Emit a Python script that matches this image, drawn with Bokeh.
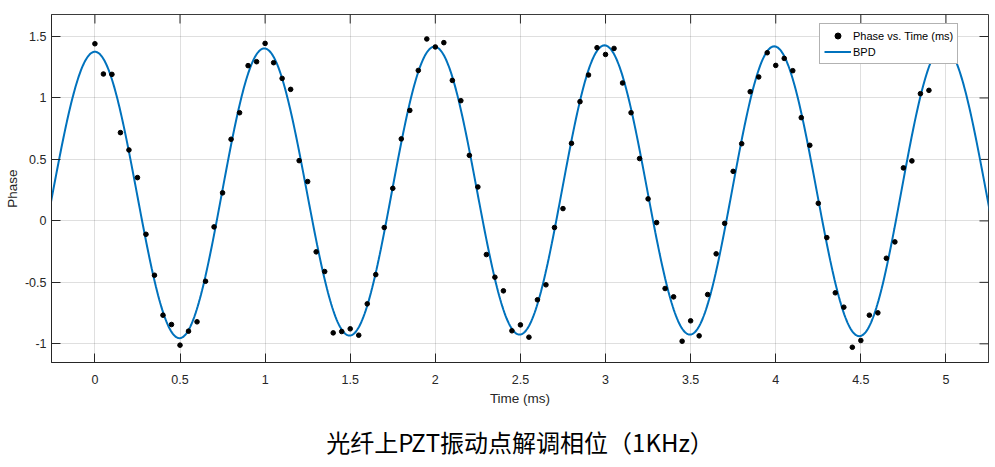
import numpy as np
from bokeh.plotting import figure
from bokeh.models import FixedTicker, Range1d, Legend, LegendItem, LinearAxis
from bokeh.embed import file_html
from bokeh.resources import INLINE

# ---------------- data ----------------
phase_time_ms = [
    0.00, 0.05, 0.10, 0.15, 0.20, 0.25, 0.30, 0.35, 0.40, 0.45,
    0.50, 0.55, 0.60, 0.65, 0.70, 0.75, 0.80, 0.85, 0.90, 0.95,
    1.00, 1.05, 1.10, 1.15, 1.20, 1.25, 1.30, 1.35, 1.40, 1.45,
    1.50, 1.55, 1.60, 1.65, 1.70, 1.75, 1.80, 1.85, 1.90, 1.95,
    2.00, 2.05, 2.10, 2.15, 2.20, 2.25, 2.30, 2.35, 2.40, 2.45,
    2.50, 2.55, 2.60, 2.65, 2.70, 2.75, 2.80, 2.85, 2.90, 2.95,
    3.00, 3.05, 3.10, 3.15, 3.20, 3.25, 3.30, 3.35, 3.40, 3.45,
    3.50, 3.55, 3.60, 3.65, 3.70, 3.75, 3.80, 3.85, 3.90, 3.95,
    4.00, 4.05, 4.10, 4.15, 4.20, 4.25, 4.30, 4.35, 4.40, 4.45,
    4.50, 4.55, 4.60, 4.65, 4.70, 4.75, 4.80, 4.85, 4.90,
]
phase_values = [
    1.441, 1.195, 1.192, 0.718, 0.577, 0.352, -0.109, -0.442, -0.767, -0.843,
    -1.011, -0.897, -0.821, -0.491, -0.049, 0.228, 0.664, 0.880, 1.263, 1.295,
    1.444, 1.287, 1.159, 1.070, 0.490, 0.320, -0.252, -0.412, -0.911, -0.900,
    -0.878, -0.930, -0.675, -0.437, -0.054, 0.265, 0.667, 0.899, 1.224, 1.480,
    1.415, 1.450, 1.143, 0.978, 0.533, 0.276, -0.274, -0.458, -0.569, -0.894,
    -0.846, -0.946, -0.642, -0.520, -0.054, 0.100, 0.631, 0.970, 1.187, 1.409,
    1.354, 1.403, 1.122, 0.880, 0.507, 0.179, -0.014, -0.550, -0.618, -0.979,
    -0.813, -0.935, -0.599, -0.268, -0.020, 0.403, 0.628, 1.051, 1.171, 1.368,
    1.265, 1.322, 1.222, 0.840, 0.615, 0.143, -0.136, -0.585, -0.702, -1.028,
    -0.973, -0.767, -0.748, -0.304, -0.171, 0.431, 0.488, 1.035, 1.062,
]

# BPD fitted curve: its successive peaks and troughs
bpd_extrema_time_ms = [-0.50, 0.000, 0.497, 0.995, 1.496, 1.995, 2.495,
                       2.994, 3.496, 3.991, 4.491, 4.985, 5.485]
bpd_extrema_values = [-0.950, 1.376, -0.954, 1.403, -0.933, 1.417, -0.925,
                      1.428, -0.925, 1.420, -0.938, 1.420, -0.930]

x_tick_values = [0, 0.5, 1, 1.5, 2, 2.5, 3, 3.5, 4, 4.5, 5]
x_tick_labels = ["0", "0.5", "1", "1.5", "2", "2.5", "3", "3.5", "4", "4.5", "5"]
y_tick_values = [-1, -0.5, 0, 0.5, 1, 1.5]
y_tick_labels = ["-1", "-0.5", "0", "0.5", "1", "1.5"]

title_text = "光纤上PZT振动点解调相位（1KHz）"
x_label = "Time (ms)"
y_label = "Phase"
legend_labels = ["Phase vs. Time (ms)", "BPD"]

# smooth sinusoidal segments between successive extrema of the fitted curve
curve_t, curve_v = [], []
for i in range(len(bpd_extrema_time_ms) - 1):
    t0, t1 = bpd_extrema_time_ms[i], bpd_extrema_time_ms[i + 1]
    v0, v1 = bpd_extrema_values[i], bpd_extrema_values[i + 1]
    s = np.linspace(0.0, 1.0, 80)
    if i > 0:
        s = s[1:]
    curve_t.extend(t0 + (t1 - t0) * s)
    curve_v.extend((v0 + v1) / 2 + (v0 - v1) / 2 * np.cos(np.pi * s))

# ---------------- styling ----------------
FONT = "Liberation Sans"
AX = "#262626"

x_rng = Range1d(-0.255, 5.25)
y_rng = Range1d(-1.152, 1.679)

p = figure(frame_width=937, frame_height=348,
           x_range=x_rng, y_range=y_rng,
           output_backend="svg", toolbar_location=None, title=None,
           min_border_left=51, min_border_top=14, min_border_right=7,
           min_border_bottom=4)
p.background_fill_color = "white"
p.border_fill_color = "white"
p.outline_line_color = AX
p.outline_line_alpha = 0.9

xt = FixedTicker(ticks=x_tick_values)
yt = FixedTicker(ticks=y_tick_values)

xa = p.xaxis[0]
ya = p.yaxis[0]
for ax, ticker, ticks, labels in ((xa, xt, x_tick_values, x_tick_labels),
                                  (ya, yt, y_tick_values, y_tick_labels)):
    ax.ticker = ticker
    ax.major_label_overrides = {v: l for v, l in zip(ticks, labels)}
    ax.major_tick_in = 9
    ax.major_tick_out = 0
    ax.minor_tick_line_color = None
    ax.axis_line_color = AX
    ax.major_tick_line_color = AX
    ax.major_label_text_font = FONT
    ax.major_label_text_font_size = "12.5px"
    ax.major_label_text_color = AX
    ax.axis_label_text_font = FONT
    ax.axis_label_text_font_size = "13.5px"
    ax.axis_label_text_font_style = "normal"
    ax.axis_label_text_color = AX
xa.major_label_standoff = 12
ya.major_label_standoff = 5
xa.axis_label = x_label
ya.axis_label = y_label
xa.axis_label_standoff = 4
ya.axis_label_standoff = 2

# caption: drawn as the label of a tick-less axis under the x axis
cap_ax = LinearAxis(ticker=FixedTicker(ticks=[]), axis_label=title_text)
cap_ax.axis_line_color = None
cap_ax.major_tick_line_color = None
cap_ax.minor_tick_line_color = None
cap_ax.major_tick_in = 0
cap_ax.major_tick_out = 0
cap_ax.major_label_standoff = 0
cap_ax.axis_label_standoff = 15
cap_ax.axis_label_text_font = "Noto Sans CJK SC"
cap_ax.axis_label_text_font_size = "24px"
cap_ax.axis_label_text_font_style = "normal"
cap_ax.axis_label_text_color = "black"
p.add_layout(cap_ax, "below")

# inward tick marks on the top and right edges of the box (clipped to frame)
p.scatter(x_tick_values, [y_rng.end] * len(x_tick_values), marker="dash",
          angle=np.pi / 2, size=18, line_color=AX, line_width=1)
p.scatter([x_rng.end] * len(y_tick_values), y_tick_values, marker="dash",
          size=18, line_color=AX, line_width=1)

p.xgrid.ticker = xt
p.ygrid.ticker = yt
for g in (p.xgrid[0], p.ygrid[0]):
    g.grid_line_color = AX
    g.grid_line_alpha = 0.15
    g.grid_line_width = 1

r_line = p.line(curve_t, curve_v, line_color="#0072BD", line_width=2)
r_pts = p.scatter(phase_time_ms, phase_values, size=4.6, fill_color="black",
                  line_color="black")

legend = Legend(items=[LegendItem(label=legend_labels[0], renderers=[r_pts]),
                       LegendItem(label=legend_labels[1], renderers=[r_line])],
                location=(768, 298))
legend.label_text_font = FONT
legend.label_text_font_size = "11px"
legend.label_text_color = "black"
legend.glyph_width = 27
legend.glyph_height = 15
legend.label_height = 15
legend.label_standoff = 2
legend.padding = 4
legend.spacing = 1
legend.margin = 0
legend.border_line_color = "#666666"
legend.border_line_width = 1
legend.background_fill_color = "white"
legend.background_fill_alpha = 1.0
p.add_layout(legend)

open("out.html", "w").write(file_html(p, INLINE))
